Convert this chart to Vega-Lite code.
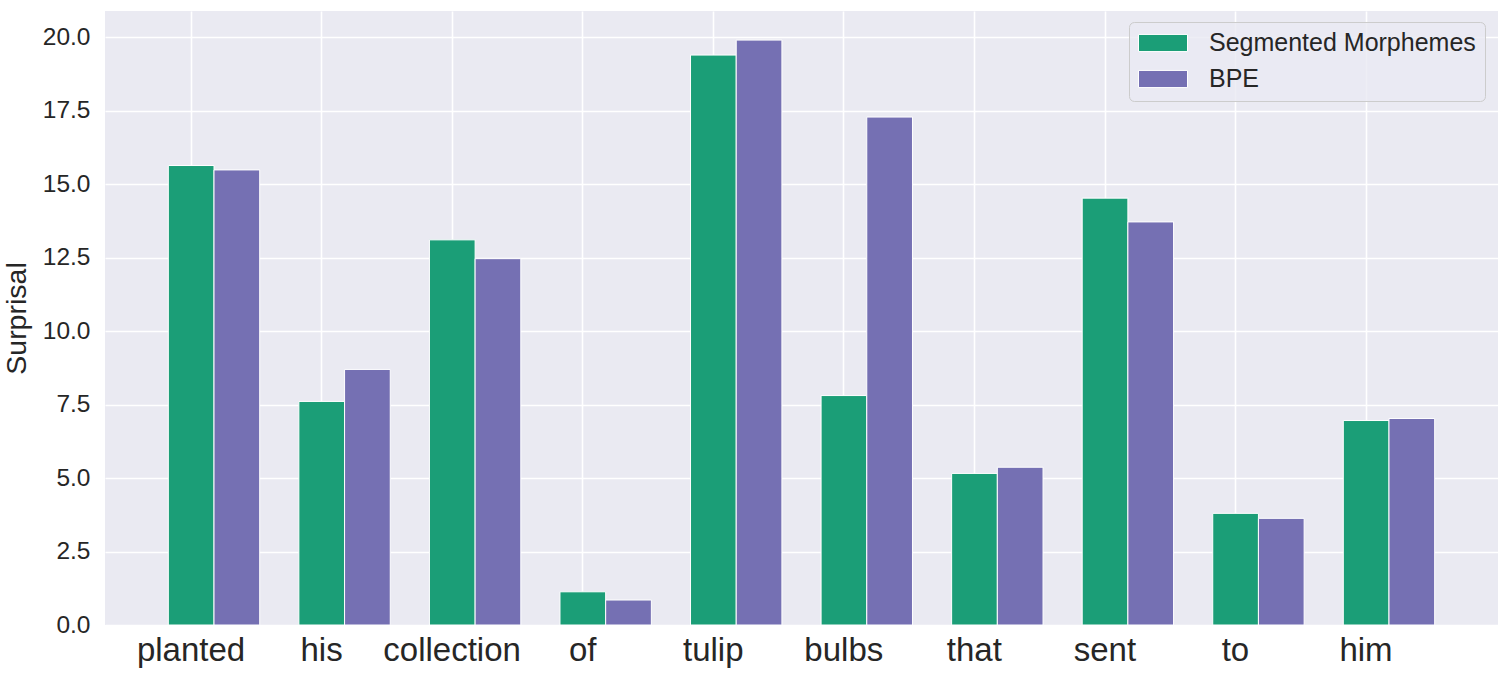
{
  "$schema": "https://vega.github.io/schema/vega-lite/v6.json",
  "width": 1393,
  "height": 614,
  "autosize": {"type": "none"},
  "padding": {"left": 105, "top": 11, "right": 10, "bottom": 55},
  "background": "white",
  "config": {
    "view": {"fill": "#EAEAF2", "stroke": null},
    "font": "Liberation Sans, Arial, sans-serif"
  },
  "data": {
    "values": [
      {"word": "planted", "model": "Segmented Morphemes", "surprisal": 15.64},
      {"word": "planted", "model": "BPE", "surprisal": 15.49},
      {"word": "his", "model": "Segmented Morphemes", "surprisal": 7.61},
      {"word": "his", "model": "BPE", "surprisal": 8.70},
      {"word": "collection", "model": "Segmented Morphemes", "surprisal": 13.11},
      {"word": "collection", "model": "BPE", "surprisal": 12.47},
      {"word": "of", "model": "Segmented Morphemes", "surprisal": 1.13},
      {"word": "of", "model": "BPE", "surprisal": 0.85},
      {"word": "tulip", "model": "Segmented Morphemes", "surprisal": 19.40},
      {"word": "tulip", "model": "BPE", "surprisal": 19.91},
      {"word": "bulbs", "model": "Segmented Morphemes", "surprisal": 7.81},
      {"word": "bulbs", "model": "BPE", "surprisal": 17.29},
      {"word": "that", "model": "Segmented Morphemes", "surprisal": 5.16},
      {"word": "that", "model": "BPE", "surprisal": 5.37},
      {"word": "sent", "model": "Segmented Morphemes", "surprisal": 14.53},
      {"word": "sent", "model": "BPE", "surprisal": 13.72},
      {"word": "to", "model": "Segmented Morphemes", "surprisal": 3.80},
      {"word": "to", "model": "BPE", "surprisal": 3.63},
      {"word": "him", "model": "Segmented Morphemes", "surprisal": 6.96},
      {"word": "him", "model": "BPE", "surprisal": 7.03}
    ]
  },
  "mark": {"type": "bar", "stroke": "white", "strokeWidth": 1},
  "encoding": {
    "x": {
      "field": "word",
      "type": "nominal",
      "sort": null,
      "scale": {"paddingInner": 0.3, "paddingOuter": 0.485},
      "axis": {
        "title": null,
        "labelAngle": 0,
        "labelFontSize": 33,
        "labelColor": "#262626",
        "labelPadding": 9,
        "labelOffset": -23,
        "domain": false,
        "ticks": false,
        "grid": true,
        "gridColor": "white",
        "gridWidth": 1.6,
        "bandPosition": 0.25
      }
    },
    "xOffset": {
      "field": "model",
      "type": "nominal",
      "sort": ["Segmented Morphemes", "BPE"],
      "scale": {"domain": ["Segmented Morphemes", "BPE"], "paddingInner": 0, "paddingOuter": 0}
    },
    "y": {
      "field": "surprisal",
      "type": "quantitative",
      "scale": {"domain": [0, 20.9], "nice": false, "zero": true},
      "axis": {
        "title": "Surprisal",
        "titleFontSize": 28.5,
        "titleFontWeight": "normal",
        "titleColor": "#262626",
        "titlePadding": 11,
        "values": [0, 2.5, 5, 7.5, 10, 12.5, 15, 17.5, 20],
        "format": ".1f",
        "labelFontSize": 24.5,
        "labelColor": "#262626",
        "labelPadding": 15,
        "domain": false,
        "ticks": false,
        "grid": true,
        "gridColor": "white",
        "gridWidth": 1.6
      }
    },
    "color": {
      "field": "model",
      "type": "nominal",
      "sort": ["Segmented Morphemes", "BPE"],
      "scale": {"domain": ["Segmented Morphemes", "BPE"], "range": ["#1b9e77", "#7570b3"]},
      "legend": {
        "title": null,
        "orient": "none",
        "legendX": 1024,
        "legendY": 11,
        "direction": "vertical",
        "padding": 9,
        "fillColor": "rgba(234,234,242,0.8)",
        "strokeColor": "#cccccc",
        "cornerRadius": 5,
        "symbolType": "M-1,-0.35L1,-0.35L1,0.35L-1,0.35Z",
        "symbolSize": 2401,
        "symbolStrokeColor": "white",
        "symbolStrokeWidth": 1,
        "symbolOpacity": 1,
        "clipHeight": 24,
        "rowPadding": 11,
        "labelOffset": 21,
        "labelFontSize": 25,
        "labelColor": "#262626",
        "labelLimit": 400
      }
    }
  }
}
